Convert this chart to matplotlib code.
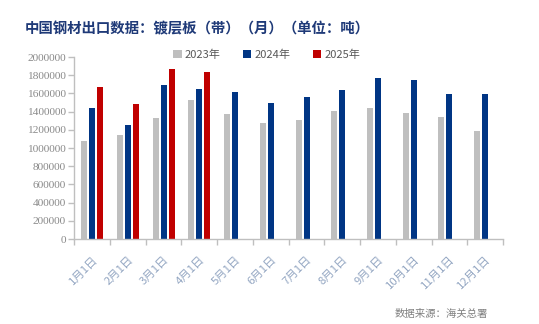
import numpy as np
import matplotlib.pyplot as plt
from matplotlib.patches import Patch

months = ["1月1日", "2月1日", "3月1日", "4月1日", "5月1日", "6月1日",
          "7月1日", "8月1日", "9月1日", "10月1日", "11月1日", "12月1日"]
y2023 = [1077000, 1140000, 1328000, 1528000, 1373000, 1273000,
         1306000, 1406000, 1439000, 1384000, 1339000, 1185000]
y2024 = [1439000, 1251000, 1694000, 1649000, 1616000, 1494000,
         1561000, 1638000, 1771000, 1749000, 1594000, 1594000]
y2025 = [1672000, 1483000, 1871000, 1838000]
years = ["2023年", "2024年", "2025年"]
colors = ["#bfbfbf", "#003584", "#c00000"]

cjk = ["Noto Sans CJK SC", "DejaVu Sans"]

fig = plt.figure(figsize=(5.39, 3.24), dpi=100)
ax = fig.add_axes([0.1379, 0.2623, 0.7953, 0.5617])

x = np.arange(len(months))
w = 0.168
step = 0.224
for i, vals in enumerate([y2023, y2024, y2025]):
    ax.bar(x[:len(vals)] + (i - 1) * step, vals, width=w, color=colors[i])

ax.set_xlim(-0.5, len(months) - 0.5)
ax.set_ylim(0, 2000000)
ax.set_yticks(np.arange(0, 2000001, 200000))
ax.set_yticklabels([str(v) for v in range(0, 2000001, 200000)],
                   family="Liberation Serif", fontsize=8.2, color="#8a8a8a")

# category ticks sit between groups, labels under the group centres
ax.set_xticks(np.arange(-0.5, len(months), 1.0))
ax.set_xticklabels([])
ax.set_xticks(x, minor=True)
ax.set_xticklabels(months, minor=True, rotation=45, ha="right", va="top",
                   rotation_mode="anchor", family=cjk, fontsize=8.2,
                   color="#93a6c2")
ax.tick_params(axis="x", which="minor", length=0, pad=11)
ax.tick_params(axis="x", which="major", length=4, color="#bfbfbf", width=1)
ax.tick_params(axis="y", length=4, color="#bfbfbf", width=1, pad=2)

for s in ["top", "right"]:
    ax.spines[s].set_visible(False)
for s in ["left", "bottom"]:
    ax.spines[s].set_color("#bfbfbf")
    ax.spines[s].set_linewidth(1)

handles = [Patch(facecolor=c, edgecolor="none") for c in colors]
fig.legend(handles, years, loc="center", bbox_to_anchor=(0.495, 0.83),
           ncol=3, frameon=False, prop={"family": cjk, "size": 8},
           labelcolor="#595959", handlelength=0.75, handleheight=0.75,
           handletextpad=0.3, columnspacing=2.0)

fig.text(0.046, 0.91, "中国钢材出口数据：镀层板（带）（月）（单位：吨）",
         family=cjk, fontsize=10.4, fontweight="bold", color="#1f3a78",
         ha="left", va="center")
fig.text(0.905, 0.031, "数据来源：海关总署", family=cjk, fontsize=7.5,
         color="#808080", ha="right", va="center")

fig.savefig("out.png", dpi=100)
